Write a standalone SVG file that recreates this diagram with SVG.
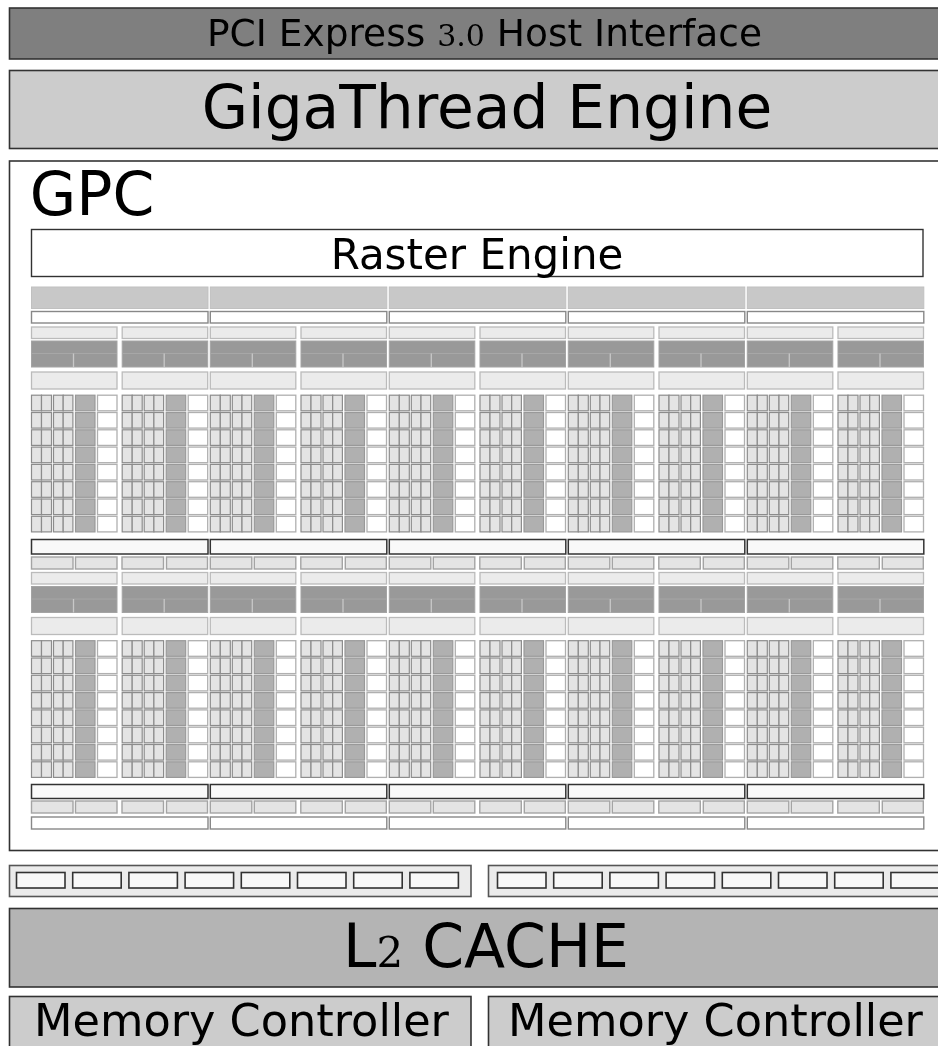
<svg xmlns="http://www.w3.org/2000/svg" xmlns:xlink="http://www.w3.org/1999/xlink" width="938" height="1046" viewBox="0 0 938 1046">
<style>
text{font-family:"DejaVu Sans",sans-serif;fill:#000;text-anchor:middle}
.num{font-family:"DejaVu Serif","Liberation Serif",serif}
.main{stroke:#333;stroke-width:1.6}
.pci{fill:#7f7f7f}.giga{fill:#ccc}.white{fill:#fff}.bar{fill:#ebebeb;stroke:#555;stroke-width:1.6}
.slot{fill:#f8f8f8;stroke:#333;stroke-width:1.6}
.big{fill:#c8c8c8;stroke:#c0c0c0;stroke-width:1}
.ws{fill:#fff;stroke:#888;stroke-width:1.4}
.wd{fill:#f9f9f9;stroke:#333;stroke-width:1.5}
.lt{fill:#ebebeb;stroke:#bbb;stroke-width:1.3}
.q{fill:#e4e4e4;stroke:#a4a4a4;stroke-width:1.4}
.dk{fill:#999;stroke:#a4a4a4;stroke-width:1}
.div{stroke:#c8c8c8;stroke-width:1.3;fill:none}
.sep{stroke:#a8a8a8;stroke-width:.9;fill:none}
.c{fill:#e4e4e4;stroke:#8c8c8c;stroke-width:1.2}
.g{fill:#b0b0b0;stroke:#999;stroke-width:1.2}
.w{fill:#fff;stroke:#b0b0b0;stroke-width:1.3}
</style>
<defs>
<filter id="soft" x="0" y="0" width="938" height="1046" filterUnits="userSpaceOnUse"><feGaussianBlur stdDeviation="0.45"/></filter>
<g id="row">
<rect class="c" x="0.5" y="0.7" width="10" height="15.6"/>
<rect class="c" x="10.5" y="0.7" width="10" height="15.6"/>
<rect class="c" x="22.5" y="0.7" width="9.7" height="15.6"/>
<rect class="c" x="32.2" y="0.7" width="9.7" height="15.6"/>
<rect class="g" x="44.5" y="0.7" width="19.5" height="15.6"/>
<rect class="w" x="66.5" y="0.7" width="19.5" height="15.6"/>
</g>
<g id="rows">
<use xlink:href="#row" href="#row" y="0"/>
<use xlink:href="#row" href="#row" y="17.3"/>
<use xlink:href="#row" href="#row" y="34.6"/>
<use xlink:href="#row" href="#row" y="51.9"/>
<use xlink:href="#row" href="#row" y="69.2"/>
<use xlink:href="#row" href="#row" y="86.5"/>
<use xlink:href="#row" href="#row" y="103.8"/>
<use xlink:href="#row" href="#row" y="121.1"/>
</g>
<g id="core">
<rect class="lt" x="0.5" y="0.5" width="85.5" height="11.5"/>
<rect class="dk" x="0.5" y="14.5" width="85.5" height="26"/>
<path class="sep" d="M0.5 27H86"/>
<path class="div" d="M42.5 27V40.5"/>
<rect class="lt" x="0.5" y="45.5" width="85.5" height="17"/>
<use xlink:href="#rows" href="#rows" y="68"/>
</g>
<g id="pair">
<use xlink:href="#core" href="#core" x="0"/>
<use xlink:href="#core" href="#core" x="90.7"/>
</g>
<g id="quads">
<rect class="q" x="0.5" y="0.5" width="41.5" height="12"/>
<rect class="q" x="44.5" y="0.5" width="41.5" height="12"/>
<rect class="q" x="91" y="0.5" width="41.5" height="12"/>
<rect class="q" x="135.5" y="0.5" width="41" height="12"/>
</g>
<g id="pm">
<rect class="big" x="0.5" y="287" width="176.5" height="21.5"/>
<rect class="ws" x="0.5" y="311.5" width="176.5" height="11.5"/>
<use xlink:href="#pair" href="#pair" y="326.5"/>
<rect class="wd" x="0.5" y="539.5" width="176.5" height="14.5"/>
<use xlink:href="#quads" href="#quads" y="556.5"/>
<use xlink:href="#pair" href="#pair" y="572"/>
<rect class="wd" x="0.5" y="784.5" width="176.5" height="14"/>
<use xlink:href="#quads" href="#quads" y="800.5"/>
<rect class="ws" x="0.5" y="817" width="176.5" height="12"/>
</g>
<g id="slot"><rect class="slot" width="48.5" height="15.5"/></g>
</defs>
<g filter="url(#soft)">
<g id="pci-express">
<rect class="pci main" x="9.5" y="8" width="940" height="51"/>
<text x="484.5" y="46" font-size="37.5"><tspan>PCI Express </tspan><tspan class="num" font-size="30">3.0</tspan><tspan> Host Interface</tspan></text>
</g>
<g id="gigathread-engine">
<rect class="giga main" x="9.5" y="70.5" width="940" height="78"/>
<text x="487" y="128" font-size="59.8">GigaThread Engine</text>
</g>
<g id="gpc">
<rect class="white main" x="9.5" y="161" width="940" height="689.5"/>
<text x="92" y="215" font-size="60">GPC</text>
</g>
<g id="raster-engine">
<rect class="white" stroke="#333" stroke-width="1.4" x="31.5" y="229.5" width="891.5" height="47"/>
<text x="477" y="269" font-size="42">Raster Engine</text>
</g>
<g id="pm-1"><use xlink:href="#pm" href="#pm" x="31"/></g>
<g id="pm-2"><use xlink:href="#pm" href="#pm" x="209.8"/></g>
<g id="pm-3"><use xlink:href="#pm" href="#pm" x="388.8"/></g>
<g id="pm-4"><use xlink:href="#pm" href="#pm" x="567.8"/></g>
<g id="pm-5"><use xlink:href="#pm" href="#pm" x="746.8"/></g>
<g id="rop-left">
<rect class="bar" x="9.5" y="865.5" width="461.5" height="31"/>
<use xlink:href="#slot" href="#slot" x="16.5" y="872.5"/>
<use xlink:href="#slot" href="#slot" x="72.7" y="872.5"/>
<use xlink:href="#slot" href="#slot" x="128.9" y="872.5"/>
<use xlink:href="#slot" href="#slot" x="185.1" y="872.5"/>
<use xlink:href="#slot" href="#slot" x="241.3" y="872.5"/>
<use xlink:href="#slot" href="#slot" x="297.5" y="872.5"/>
<use xlink:href="#slot" href="#slot" x="353.7" y="872.5"/>
<use xlink:href="#slot" href="#slot" x="409.9" y="872.5"/>
</g>
<g id="rop-right">
<rect class="bar" x="488.5" y="865.5" width="470" height="31"/>
<use xlink:href="#slot" href="#slot" x="497.5" y="872.5"/>
<use xlink:href="#slot" href="#slot" x="553.7" y="872.5"/>
<use xlink:href="#slot" href="#slot" x="609.9" y="872.5"/>
<use xlink:href="#slot" href="#slot" x="666.1" y="872.5"/>
<use xlink:href="#slot" href="#slot" x="722.3" y="872.5"/>
<use xlink:href="#slot" href="#slot" x="778.5" y="872.5"/>
<use xlink:href="#slot" href="#slot" x="834.7" y="872.5"/>
<use xlink:href="#slot" href="#slot" x="890.9" y="872.5"/>
</g>
<g id="l2-cache">
<rect fill="#b4b4b4" class="main" x="9.5" y="908.5" width="940" height="78.5"/>
<text x="486" y="967" font-size="60">L<tspan class="num" font-size="42">2</tspan> CACHE</text>
</g>
<g id="memory-controller-left">
<rect class="giga main" x="9.5" y="996.5" width="461.5" height="60"/>
<text x="241.5" y="1036" font-size="44.6">Memory Controller</text>
</g>
<g id="memory-controller-right">
<rect class="giga main" x="488.5" y="996.5" width="470" height="60"/>
<text x="715.5" y="1036" font-size="44.6">Memory Controller</text>
</g>
</g>
</svg>
